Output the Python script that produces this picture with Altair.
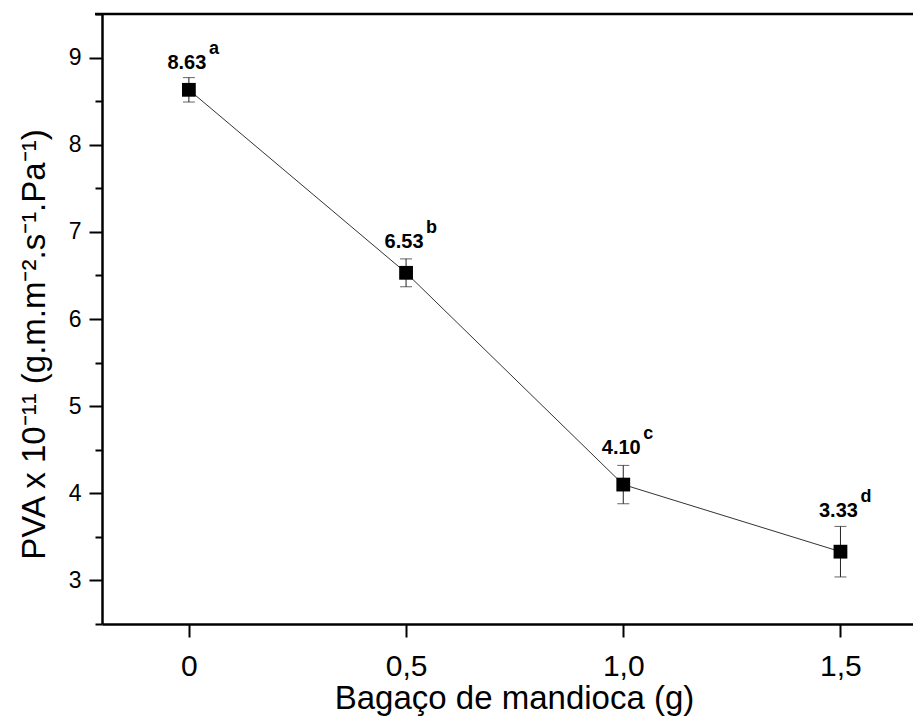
import altair as alt
import pandas as pd

# data
bagaco = [0.0, 0.5, 1.0, 1.5]
pva = [8.63, 6.53, 4.10, 3.33]
erro = [0.14, 0.16, 0.22, 0.29]
valor_txt = ["8.63", "6.53", "4.10", "3.33"]
letras = ["a", "b", "c", "d"]
label_y = [8.87, 6.82, 4.45, 3.73]

y_ticks = [2.5, 3, 3.5, 4, 4.5, 5, 5.5, 6, 6.5, 7, 7.5, 8, 8.5, 9, 9.5]
x_ticks = [0, 0.5, 1.0, 1.5]

df = pd.DataFrame({
    "x": bagaco, "y": pva,
    "lo": [v - e for v, e in zip(pva, erro)],
    "hi": [v + e for v, e in zip(pva, erro)],
    "txt": valor_txt, "let": letras, "ly": label_y,
})

W, H = 811, 610
FONT = "Liberation Sans"

xs = alt.Scale(domain=[-0.2, 1.667], nice=False, zero=False)
ys = alt.Scale(domain=[2.5, 9.5], nice=False, zero=False)

x_label_expr = "datum.value == 0 ? '0' : replace(format(datum.value, '.1f'), '.', ',')"
y_label_expr = "datum.value % 1 == 0 ? format(datum.value, 'd') : ''"

x_axis = alt.Axis(values=x_ticks, labelExpr=x_label_expr, title="Bagaço de mandioca (g)",
                  grid=False, domainColor="black", domainWidth=2.5, tickColor="black",
                  tickWidth=2, tickSize=13, labelFontSize=30, labelFont=FONT,
                  labelColor="black", labelPadding=38, labelBaseline="alphabetic",
                  titleFont=FONT, titleFontSize=33,
                  titleFontWeight="normal", titleColor="black", titleY=84, titleX=412,
                  titleBaseline="alphabetic", titleAlign="center")
y_axis = alt.Axis(values=y_ticks, labelExpr=y_label_expr,
                  title="PVA x 10⁻¹¹ (g.m.m⁻².s⁻¹.Pa⁻¹)",
                  grid=False, domainColor="black", domainWidth=2.5, tickColor="black",
                  tickWidth=2,
                  tickSize={"condition": {"test": "datum.value % 1 != 0", "value": 7}, "value": 13},
                  labelFontSize=23, labelFont=FONT,
                  labelColor="black", labelPadding=8, titleFont=FONT, titleFontSize=33,
                  titleFontWeight="normal", titleColor="black", titleX=-68, titleY=330,
                  titleAngle=-90, titleBaseline="middle", titleAlign="center")

base = alt.Chart(df)

line = base.mark_line(color="#333333", strokeWidth=1).encode(
    x=alt.X("x:Q", scale=xs, axis=x_axis),
    y=alt.Y("y:Q", scale=ys, axis=y_axis),
)

err = base.mark_rule(color="#222222", strokeWidth=1).encode(
    x="x:Q", y="lo:Q", y2="hi:Q")
cap_lo = base.mark_tick(color="#222222", thickness=1, size=12, orient="horizontal").encode(
    x="x:Q", y="lo:Q")
cap_hi = base.mark_tick(color="#222222", thickness=1, size=12, orient="horizontal").encode(
    x="x:Q", y="hi:Q")

pts = base.mark_square(color="black", size=190, opacity=1).encode(x="x:Q", y="y:Q")

txt = base.mark_text(font=FONT, fontSize=20, fontWeight="bold", color="black",
                     baseline="alphabetic", align="center", dx=-2).encode(
    x="x:Q", y="ly:Q", text="txt:N")
sup = base.mark_text(font=FONT, fontSize=18, fontWeight="bold", color="black",
                     baseline="alphabetic", align="left", dx=20, dy=-15).encode(
    x="x:Q", y="ly:Q", text="let:N")

top_line = alt.Chart(pd.DataFrame({"t": [9.5]})).mark_rule(color="black", strokeWidth=2.5).encode(
    y=alt.Y("t:Q", scale=ys), x=alt.value(-7), x2=alt.value(W))

chart = alt.layer(line, err, cap_lo, cap_hi, pts, txt, sup, top_line).properties(
    width=W, height=H,
    autosize=alt.AutoSizeParams(type="none"),
    padding={"left": 102, "top": 14, "right": 0, "bottom": 101},
    background="white",
).configure_view(stroke=None)

chart.save("out.html", embed_options={"renderer": "svg", "actions": False})
